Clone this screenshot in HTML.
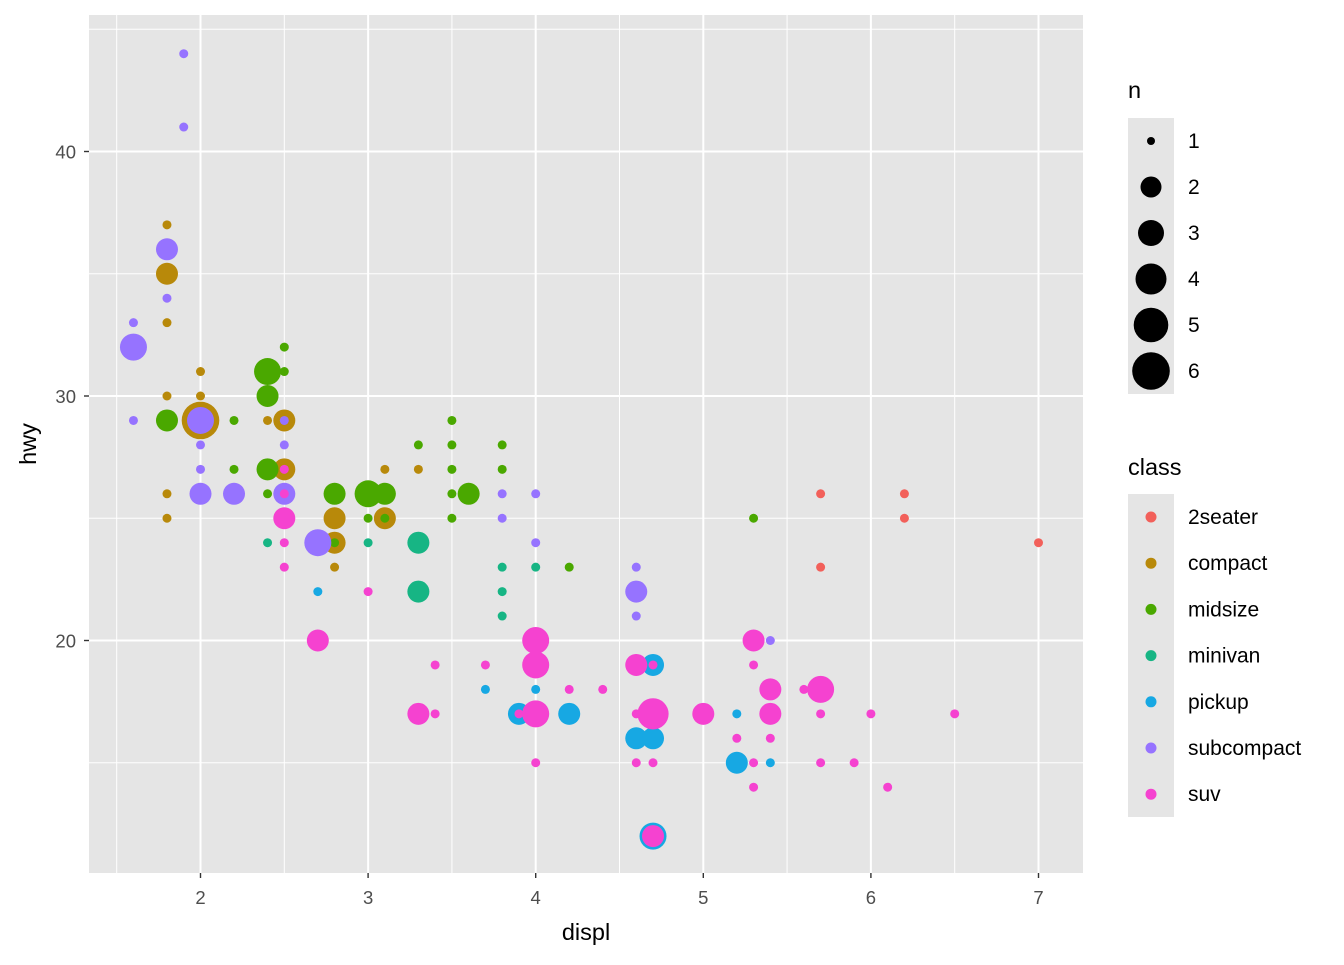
<!DOCTYPE html>
<html><head><meta charset="utf-8"><style>
html,body{margin:0;padding:0;background:#fff;}
text{font-family:"Liberation Sans",Arial,sans-serif;}
</style></head><body>
<svg id="s" width="1344" height="960" xmlns="http://www.w3.org/2000/svg">
<rect width="1344" height="960" fill="#fff"/>
<rect x="89" y="15" width="994" height="858" fill="#E5E5E5"/>
<g id="grid"></g>
<g id="pts"></g>
<g id="axes" fill="#4D4D4D" font-size="18.5"></g>
<text x="586" y="940" font-size="23.5" text-anchor="middle" fill="#000">displ</text>
<text transform="translate(36,444) rotate(-90)" font-size="23.5" text-anchor="middle" fill="#000">hwy</text>
<text x="1128" y="98" font-size="23.5" fill="#000">n</text>
<rect x="1128" y="118" width="46" height="276" fill="#E5E5E5"/>
<text x="1128" y="475" font-size="23.5" fill="#000">class</text>
<rect x="1128" y="494" width="46" height="323" fill="#E5E5E5"/>
<g id="leg" font-size="21" fill="#000"></g>
</svg>
<script>
var NS="http://www.w3.org/2000/svg";
function el(p,t,a,txt){var e=document.createElementNS(NS,t);for(var k in a)e.setAttribute(k,a[k]);if(txt!==undefined)e.textContent=txt;p.appendChild(e);return e;}
function X(v){return 200.5+(v-2)*167.6;}
function Y(v){return 396-(v-30)*24.45;}
var g=document.getElementById('grid');
[1.5,2.5,3.5,4.5,5.5,6.5].forEach(function(v){el(g,'line',{x1:X(v),x2:X(v),y1:15,y2:873,stroke:'#fff','stroke-width':1});});
[15,25,35,45].forEach(function(v){el(g,'line',{x1:89,x2:1083,y1:Y(v),y2:Y(v),stroke:'#fff','stroke-width':1});});
[2,3,4,5,6,7].forEach(function(v){el(g,'line',{x1:X(v),x2:X(v),y1:15,y2:873,stroke:'#fff','stroke-width':2});});
[20,30,40].forEach(function(v){el(g,'line',{x1:89,x2:1083,y1:Y(v),y2:Y(v),stroke:'#fff','stroke-width':2});});
var a=document.getElementById('axes');
[2,3,4,5,6,7].forEach(function(v){el(a,'line',{x1:X(v),x2:X(v),y1:873,y2:878,stroke:'#333','stroke-width':1.4});el(a,'text',{x:X(v),y:904,'text-anchor':'middle'},v);});
[20,30,40].forEach(function(v){el(a,'line',{x1:84,x2:89,y1:Y(v),y2:Y(v),stroke:'#333','stroke-width':1.4});el(a,'text',{x:76,y:Y(v)+7,'text-anchor':'end'},v);});
var C={'2s':'#F2605A',co:'#B8890A',mi:'#4AA800',mv:'#17B584',pu:'#17A8E3',sc:'#9673FF',su:'#F542D0'};
var R=[0,4.5,11,13.5,15.6,17.3,18.8];
var D=[
['2s',5.7,26,1],['2s',6.2,26,1],['2s',6.2,25,1],['2s',7.0,24,1],['2s',5.7,23,1],
['co',1.8,37,1],['co',1.8,35,2],['co',1.8,33,1],['co',2.0,31,1],['co',1.8,30,1],['co',2.0,30,1],['co',2.0,29,6],['co',2.4,29,1],['co',2.5,29,2],['co',2.5,27,2],['co',1.8,26,1],['co',1.8,25,1],['co',2.8,24,2],['co',2.8,23,1],['co',3.1,27,1],['co',2.8,25,2],['co',3.1,25,2],['co',3.3,27,1],
['mi',2.5,32,1],['mi',2.4,31,3],['mi',2.5,31,1],['mi',2.4,30,2],['mi',1.8,29,2],['mi',2.2,29,1],['mi',2.2,27,1],['mi',2.4,27,2],['mi',2.4,26,1],['mi',2.8,24,1],['mi',2.8,26,2],['mi',3.0,26,3],['mi',3.1,26,2],['mi',3.0,25,1],['mi',3.1,25,1],['mi',3.3,28,1],['mi',3.5,29,1],['mi',3.5,28,1],['mi',3.8,28,1],['mi',3.5,27,1],['mi',3.8,27,1],['mi',3.5,26,1],['mi',3.6,26,2],['mi',3.5,25,1],['mi',4.2,23,1],['mi',5.3,25,1],
['mv',2.4,24,1],['mv',3.0,24,1],['mv',3.3,24,2],['mv',3.3,22,2],['mv',3.8,23,1],['mv',4.0,23,1],['mv',3.8,22,1],['mv',3.8,21,1],
['pu',2.7,22,1],['pu',4.7,19,2],['pu',3.7,18,1],['pu',4.0,18,1],['pu',3.9,17,2],['pu',4.2,17,2],['pu',4.6,16,2],['pu',4.7,16,2],['pu',4.7,12,3],['pu',5.2,17,1],['pu',5.2,15,2],['pu',5.4,15,1],
['sc',1.9,44,1],['sc',1.9,41,1],['sc',1.8,36,2],['sc',1.8,34,1],['sc',1.6,33,1],['sc',1.6,32,3],['sc',1.6,29,1],['sc',2.0,29,3],['sc',2.5,29,1],['sc',2.0,28,1],['sc',2.5,28,1],['sc',2.0,27,1],['sc',2.0,26,2],['sc',2.2,26,2],['sc',2.5,26,2],['sc',2.7,24,3],['sc',3.8,26,1],['sc',4.0,26,1],['sc',3.8,25,1],['sc',4.0,24,1],['sc',4.6,23,1],['sc',4.6,22,2],['sc',4.6,21,1],['sc',5.4,20,1],
['su',2.5,27,1],['su',2.5,26,1],['su',2.5,25,2],['su',2.5,24,1],['su',2.5,23,1],['su',3.0,22,1],['su',2.7,20,2],['su',4.0,20,3],['su',3.4,19,1],['su',3.7,19,1],['su',4.0,19,3],['su',4.6,19,2],['su',4.7,19,1],['su',4.2,18,1],['su',4.4,18,1],['su',3.3,17,2],['su',3.4,17,1],['su',3.9,17,1],['su',4.0,17,3],['su',4.6,17,1],['su',4.7,17,4],['su',5.0,17,2],['su',4.0,15,1],['su',4.6,15,1],['su',4.7,15,1],['su',4.7,12,2],['su',5.3,20,2],['su',5.3,19,1],['su',5.4,18,2],['su',5.6,18,1],['su',5.7,18,3],['su',5.4,17,2],['su',5.7,17,1],['su',6.0,17,1],['su',6.5,17,1],['su',5.2,16,1],['su',5.4,16,1],['su',5.3,15,1],['su',5.7,15,1],['su',5.9,15,1],['su',5.3,14,1],['su',6.1,14,1]
];
var p=document.getElementById('pts');
D.forEach(function(d){el(p,'circle',{cx:X(d[1]),cy:Y(d[2]),r:R[d[3]],fill:C[d[0]]});});
var L=document.getElementById('leg');
var LR=[0,4,10.5,13,15.5,17.3,18.8];
for(var i=1;i<=6;i++){var y=141+(i-1)*46;el(L,'circle',{cx:1151,cy:y,r:LR[i],fill:'#000'});el(L,'text',{x:1188,y:y+7},i);}
var cl=[['2s','2seater'],['co','compact'],['mi','midsize'],['mv','minivan'],['pu','pickup'],['sc','subcompact'],['su','suv']];
cl.forEach(function(c,i){var y=517+i*46.2;el(L,'circle',{cx:1151,cy:y,r:5.5,fill:C[c[0]]});el(L,'text',{x:1188,y:y+7},c[1]);});
</script>
</body></html>
